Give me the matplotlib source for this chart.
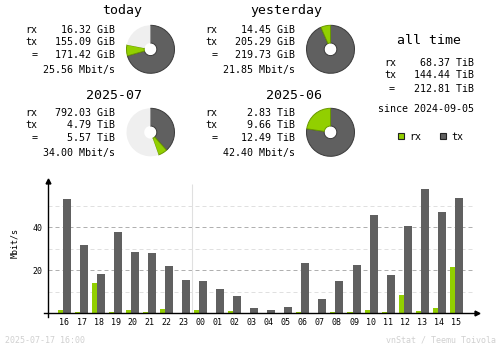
import numpy as np
import matplotlib.pyplot as plt
from matplotlib.patches import Rectangle

# summary blocks: today, yesterday, this month, last month
periods = ['today', 'yesterday', '2025-07', '2025-06']
rx_vals = [16.32, 14.45, 792.03, 2.83]
rx_units = ['GiB', 'GiB', 'GiB', 'TiB']
tx_vals = [155.09, 205.29, 4.79, 9.66]
tx_units = ['GiB', 'GiB', 'TiB', 'TiB']
tot_vals = [171.42, 219.73, 5.57, 12.49]
tot_units = ['GiB', 'GiB', 'TiB', 'TiB']
rates = [25.56, 21.85, 34.00, 42.40]
partner = [1, 0, 3, 2]  # donut is scaled against the other period of the pair

alltime_rx = 68.37
alltime_tx = 144.44
alltime_total = 212.81
alltime_unit = 'TiB'
since = '2024-09-05'

# last 24 hours, Mbit/s
hours = ['16', '17', '18', '19', '20', '21', '22', '23', '00', '01', '02', '03',
         '04', '05', '06', '07', '08', '09', '10', '11', '12', '13', '14', '15']
hour_rx = [1.6, 0.6, 14.1, 0.6, 1.6, 0.6, 2.0, 0.0, 1.6, 0.0, 1.1, 0.0,
           0.0, 0.0, 0.6, 0.0, 0.6, 0.6, 1.6, 0.6, 8.5, 1.1, 2.5, 21.6]
hour_tx = [53.2, 31.8, 18.3, 37.8, 28.5, 28.1, 22.0, 15.5, 15.0, 11.3, 8.1, 2.5,
           1.6, 2.9, 23.4, 6.7, 15.0, 22.5, 45.7, 17.8, 40.6, 57.8, 47.1, 53.6]

stamp = '2025-07-17 16:00'
credit = 'vnStat / Teemu Toivola'

rx_c = '#92cf00'
tx_c = '#606060'
rest_c = '#efefef'
mono = 'DejaVu Sans Mono'

W, H = 500, 348
fig = plt.figure(figsize=(W / 100, H / 100), dpi=100)


def fx(x):
    return x / W


def fy(y):
    return 1 - y / H


def put(x, y, s, size=7.2, ha='left', color='black', **kw):
    fig.text(fx(x), fy(y), s, fontsize=size, ha=ha, va='baseline',
             family=mono, color=color, **kw)


def gib(v, u):
    return v * 1024 if u == 'TiB' else v


# ---------------- summary blocks ----------------
block_dx = [0, 180, 0, 180]
title_y = [14.3, 14.3, 99.3, 99.3]
row0_y = [33.3, 33.3, 116.3, 116.3]
pie_y = [49.3, 49.3, 132.3, 132.3]
row_steps = [0, 11.9, 25.2, 40.0]

for k in range(4):
    dx = block_dx[k]
    put(142 + dx, title_y[k], periods[k], size=9.5, ha='right')
    ys = [row0_y[k] + s for s in row_steps]
    put(25.3 + dx, ys[0], 'rx')
    put(115 + dx, ys[0], f'{rx_vals[k]:.2f} {rx_units[k]}', ha='right')
    put(25.3 + dx, ys[1], 'tx')
    put(115 + dx, ys[1], f'{tx_vals[k]:.2f} {tx_units[k]}', ha='right')
    put(34.5 + dx, ys[2], '=', ha='center')
    put(115 + dx, ys[2], f'{tot_vals[k]:.2f} {tot_units[k]}', ha='right')
    put(115 + dx, ys[3], f'{rates[k]:.2f} Mbit/s', ha='right')

    # donut
    tot = gib(tot_vals[k], tot_units[k])
    ref = max(tot, gib(tot_vals[partner[k]], tot_units[partner[k]]))
    vals = [gib(tx_vals[k], tx_units[k]), gib(rx_vals[k], rx_units[k]), ref - tot]
    cx, cy = 150.5 + dx, pie_y[k]
    pax = fig.add_axes([fx(cx - 25), fy(cy + 25), 50 / W, 50 / H])
    wedges, _ = pax.pie(vals, colors=[tx_c, rx_c, rest_c], startangle=90,
                        counterclock=False, radius=24 / 25,
                        wedgeprops=dict(width=(24 - 6.3) / 25, linewidth=0.7))
    wedges[0].set_edgecolor('#3a3a3a')
    wedges[1].set_edgecolor('#6a9800')
    wedges[2].set_edgecolor('none')
    pax.set_xlim(-1, 1)
    pax.set_ylim(-1, 1)

# ---------------- all time ----------------
put(428.8, 44.3, 'all time', size=9.5, ha='center')
put(384.7, 66.3, 'rx')
put(474.3, 66.3, f'{alltime_rx:.2f} {alltime_unit}', ha='right')
put(384.7, 78.2, 'tx')
put(474.3, 78.2, f'{alltime_tx:.2f} {alltime_unit}', ha='right')
put(391.7, 92, '=', ha='center')
put(474.3, 92, f'{alltime_total:.2f} {alltime_unit}', ha='right')
put(474.3, 112, f'since {since}', ha='right')

# legend
for sx, tx_x, col, lab in [(398.3, 409.3, rx_c, 'rx'), (440.3, 451.7, tx_c, 'tx')]:
    fig.add_artist(Rectangle((fx(sx), fy(139.3)), 6 / W, 6 / H, facecolor=col,
                             edgecolor='#222222', lw=0.8, transform=fig.transFigure))
    put(tx_x, 139.6, lab)

# ---------------- hourly bars ----------------
ax = fig.add_axes([fx(48.3), fy(313.3), (472.7 - 48.3) / W, (313.3 - 181) / H])
x = np.arange(len(hours))
ax.set_xlim(-0.951, 23.97)
ax.set_ylim(0, 61.5)

for v in (10, 30, 50):
    ax.axhline(v, color='#e0e0e0', ls=(0, (4, 3)), lw=0.72, zorder=0)
for v in (20, 40):
    ax.axhline(v, color='#b0b0b0', ls=(0, (4, 3)), lw=0.72, zorder=0)
day = hours.index('00') - 0.5
ax.vlines(day, 0, 60.1, color='#e0e0e0', lw=0.8, zorder=0)

ax.bar(x - 0.235, hour_rx, width=0.294, color=rx_c, lw=0, zorder=2)
ax.bar(x + 0.147, hour_tx, width=0.47, color=tx_c, lw=0, zorder=2)

for s in ax.spines.values():
    s.set_visible(False)
ax.plot([0, 0], [-0.026, 1], transform=ax.transAxes, clip_on=False, color='black', lw=1.0, zorder=3)
ax.plot([-0.0101, 1.0094], [0, 0], transform=ax.transAxes, clip_on=False, color='black', lw=1.0, zorder=3)
ax.plot([0], [1], marker='^', ms=3.5, color='black', transform=ax.transAxes, clip_on=False, zorder=3)
ax.plot([1.0094], [0], marker='>', ms=3.5, color='black', transform=ax.transAxes, clip_on=False, zorder=3)

ax.set_xticks(x, hours)
ax.set_yticks([20, 40], ['20', '40'])
ax.tick_params(length=0, labelsize=6)
ax.tick_params(axis='x', pad=3.6)
ax.tick_params(axis='y', pad=4)
for lab in ax.get_xticklabels() + ax.get_yticklabels():
    lab.set_family(mono)
ax.patch.set_alpha(0)

fig.text(fx(15), fy(243.3), 'Mbit/s', rotation=90, fontsize=6, family=mono,
         ha='center', va='center')

put(5, 342.7, stamp, size=6, color='#d0d0d0')
put(495.7, 342.7, credit, size=6, ha='right', color='#d0d0d0')

fig.savefig('out.png', dpi=100)
